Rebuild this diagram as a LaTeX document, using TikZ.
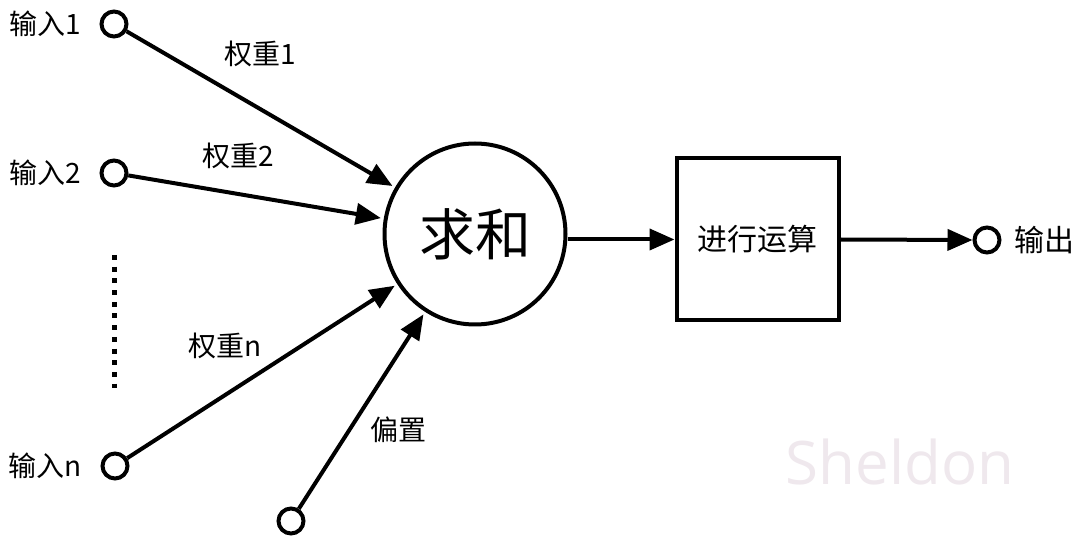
\documentclass[tikz,border=0pt]{standalone}
\usepackage{fontspec}
\setmainfont{Noto Sans CJK SC}
\newfontfamily\wmfont{Open Sans}
\usetikzlibrary{arrows.meta}
\definecolor{wmcol}{HTML}{EFE8ED}
\begin{document}
\begin{tikzpicture}[x=1pt,y=-1pt,
  port/.style={circle,draw,line width=4pt,minimum size=25pt,inner sep=0pt},
  lbl/.style={font=\fontsize{28}{30}\selectfont,inner sep=0pt},
  conn/.style={line width=4pt,-{Triangle[length=25pt,width=21pt]},shorten >=3pt}]
\useasboundingbox (0,0) rectangle (1080,545);
\fill[white] (0,0) rectangle (1080,545);
\node[font=\wmfont\fontsize{60}{62}\selectfont,text=wmcol] (wm) at (900,462) {Sheldon};
% inputs
\node[port] (in1) at (114,24) {};
\node[port] (in2) at (114,173) {};
\node[port] (inn) at (115,466) {};
\node[port] (bias) at (291,521) {};
\node[port] (out) at (987,240) {};
\node[lbl] (l1) at (45,24) {输入1};
\node[lbl] (l2) at (45,173) {输入2};
\node[lbl] (ln) at (45,466) {输入n};
\node[lbl] (w1) at (260,54) {权重1};
\node[lbl] (w2) at (238,156) {权重2};
\node[lbl] (wn) at (225,346) {权重n};
\node[lbl] (wb) at (398,430) {偏置};
\node[lbl,font=\fontsize{30}{32}\selectfont] (lo) at (1044,240) {输出};
% sum and box
\node[circle,draw,line width=4pt,minimum size=181pt,inner sep=0pt,font=\fontsize{56}{58}\selectfont] (sum) at (475,234) {求和};
\node[draw,line width=4pt,minimum width=162pt,minimum height=162pt,inner sep=0pt,font=\fontsize{30}{32}\selectfont] (op) at (757.5,239.5) {进行运算};
% dotted
\coordinate (d1) at (114,255);
\coordinate (d2) at (114,388);
\draw[line width=5pt,dash pattern=on 5pt off 6.7pt] (d1) -- (d2);
% connectors
\draw[conn] (in1) -- (sum);
\draw[conn] (in2) -- (sum);
\draw[conn] (inn) -- (sum);
\draw[conn] (bias) -- (sum);
\draw[conn,shorten >=0pt] (sum.east |- op.west) -- (op.west);
\draw[conn,shorten >=0pt] (op.east) -- (out.west);
\end{tikzpicture}
\end{document}
